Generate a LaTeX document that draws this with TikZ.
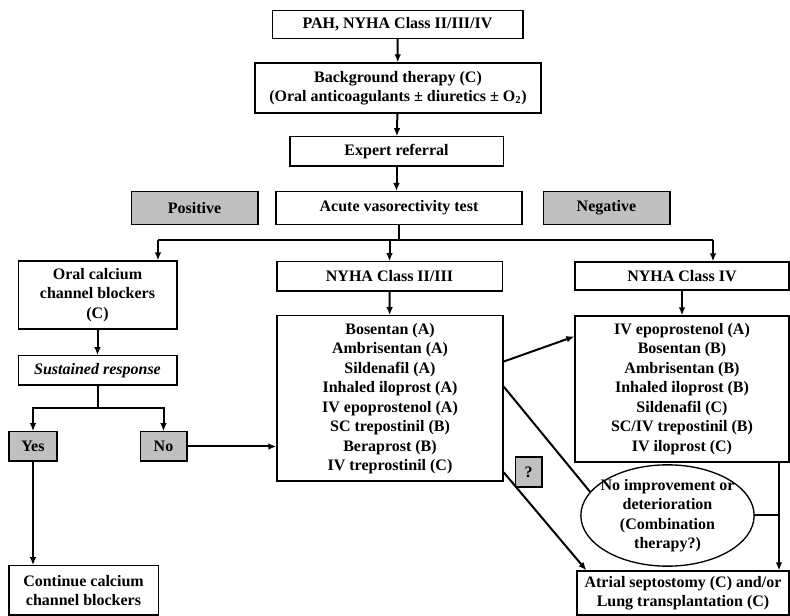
\documentclass[tikz,border=0pt]{standalone}
\usepackage{fontspec}
\setmainfont{Liberation Serif}
\usepackage{xcolor}
\usepackage{tikz}
\usetikzlibrary{positioning,arrows.meta,shapes.geometric}
\definecolor{boxgray}{RGB}{192,192,192}

\begin{document}
\begin{tikzpicture}[
            x = 0.75pt, y = -0.75pt,
            every node/.append style = {font = \fontsize{12}{14.6}\selectfont\bfseries, align = center, inner sep = 0pt},
            box/.style 2 args = {draw, line width = 1pt, minimum width = #1, minimum height = #2},
            tag/.style 2 args = {box = {#1}{#2}, fill = boxgray},
            flow/.style = {line width = 1.5pt},
            arr/.style = {flow, -{Latex[length = 6pt, width = 5pt]}}]
            \useasboundingbox (0,0) rectangle (790,616);
            \node[box = {188pt}{21pt}] (pah) at (397.5,24.5) {PAH, NYHA Class II/III/IV};
            \node[box = {214.5pt}{37.5pt}] (bg) at (398,88) {Background therapy (C)\\(Oral anticoagulants ± diuretics ± O\textsubscript{2})};
            \node[box = {160pt}{22pt}] (refer) at (396.5,151.5) {Expert referral};
            \node[box = {184.5pt}{24.5pt}] (acute) at (399,208) {Acute vasorectivity test};
            \node[tag = {95pt}{24.5pt}] (pos) at (194.5,208) {Positive};
            \node[tag = {95pt}{24.5pt}] (neg) at (606.5,208) {Negative};
            \node[box = {119pt}{51pt}] (ccb) at (97.5,295) {Oral calcium\\channel blockers\\(C)};
            \node[box = {119pt}{22pt}] (sust) at (97.5,370.5) {\itshape Sustained response};
            \node[tag = {36pt}{22pt}] (yes) at (33,446.5) {Yes};
            \node[tag = {35pt}{22pt}] (no) at (163.5,446.5) {No};
            \node[box = {112pt}{37pt}] (cont) at (83.5,590.5) {Continue calcium\\channel blockers};
            \node[box = {169pt}{22pt}] (mid) at (389.5,276.5) {NYHA Class II/III};
            \node[box = {169.5pt}{124pt}] (drugs) at (390,398.5) {Bosentan (A)\\Ambrisentan (A)\\Sildenafil (A)\\Inhaled iloprost (A)\\IV epoprostenol (A)\\SC trepostinil (B)\\Beraprost (B)\\IV treprostinil (C)};
            \node[box = {160.5pt}{21pt}] (four) at (682,276) {NYHA Class IV};
            \node[box = {160.5pt}{109.5pt}] (ivdrugs) at (682,389) {IV epoprostenol (A)\\Bosentan (B)\\Ambrisentan (B)\\Inhaled iloprost (B)\\Sildenafil (C)\\SC/IV trepostinil (B)\\IV iloprost (C)};
            \node[tag = {20pt}{22.5pt}] (quest) at (528.5,472) {?};
            \node[draw, ellipse, line width = 1pt, inner xsep = -5pt, inner ysep = -2pt, minimum width = 130pt, minimum height = 76pt] (noimp) at (667.5,515.5) {No improvement or\\deterioration\\(Combination\\therapy?)};
            \node[box = {159pt}{33pt}] (atrial) at (683,593) {Atrial septostomy (C) and/or\\Lung transplantation (C)};
            \coordinate (hl) at (158,240);
            \coordinate (hr) at (713,240);
            \coordinate (fork) at (97.5,408);
            \coordinate (bar) at ([xshift = -8pt]ivdrugs.south east);
            \draw[arr] (pah) -- (bg);
            \draw[arr] (bg) -- (refer);
            \draw[arr] (refer.south) -- (refer.south |- acute.north);
            \draw[flow] (acute.south) -- (acute.south |- hl);
            \draw[flow] (hl) -- (hr);
            \draw[arr] (hl) -- (hl |- ccb.north);
            \draw[arr] (mid.north |- hl) -- (mid.north);
            \draw[arr] (hr) -- (hr |- four.north);
            \draw[arr] (ccb) -- (sust);
            \draw[flow] (sust.south) -- (fork);
            \draw[arr] (fork) -| (yes.north);
            \draw[arr] (fork) -| (no.north);
            \draw[arr] (yes.south) -- (yes.south |- cont.north);
            \draw[arr] (no.east) -- (no.east -| drugs.west);
            \draw[arr] (mid) -- (drugs);
            \draw[arr] (four) -- (ivdrugs);
            \draw[arr] (drugs.18) -- (ivdrugs.154);
            \draw[flow] (drugs.6) -- (noimp.163);
            \draw[arr] (drugs.-33) -- ([xshift = 7.5pt]atrial.north west);
            \draw[arr] (bar) -- (bar |- atrial.north);
            \draw[flow] (noimp.east) -- (noimp.east -| bar);
        \end{tikzpicture}
\end{document}
